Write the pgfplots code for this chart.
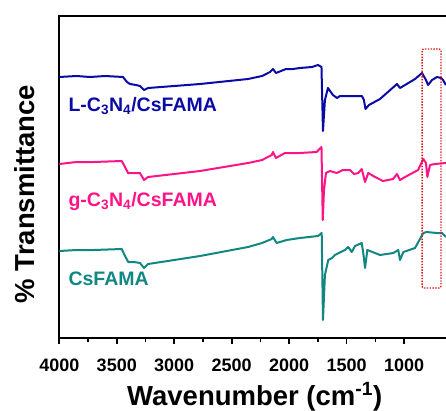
\documentclass[border=0pt]{standalone}
\usepackage{fontspec}
\setmainfont{Liberation Sans}
\usepackage{pgfplots}
\pgfplotsset{compat=1.18}

\definecolor{specblue}{RGB}{10,10,165}
\definecolor{specpink}{RGB}{255,20,135}
\definecolor{specteal}{RGB}{18,135,130}
\definecolor{boxred}{RGB}{225,20,20}

\begin{document}
\begin{tikzpicture}
\begin{axis}[
  at={(0pt,0pt)}, anchor=south west,
  scale only axis, width=390.8pt, height=322pt,
  x dir=reverse, xmin=600, xmax=4000, ymin=0, ymax=322,
  xtick={1000,1500,...,4000}, minor x tick num=1,
  ytick=\empty,
  xtick pos=bottom, tick align=outside,
  major tick length=6pt, minor tick length=4pt,
  every tick/.append style={black, line width=1.6pt},
  axis line style={line width=2pt},
  /pgf/number format/assume math mode=true,
  /pgf/number format/set thousands separator={},
  xticklabel style={font=\fontsize{18}{20}\selectfont\bfseries, anchor=base, yshift=-27pt},
  xlabel={Wavenumber (cm\textsuperscript{-1})},
  ylabel={\% Transmittance},
  label style={font=\fontsize{27.5}{30}\selectfont\bfseries},
  xlabel style={at={(axis description cs:0.5,0)}, anchor=base, yshift=-67pt},
  ylabel style={at={(axis description cs:-0.0896,0.447)}, anchor=center},
  every axis plot/.append style={line width=2pt, line join=round},
]
% L-C3N4/CsFAMA
\addplot[specblue] table {
4000 261
3850 262
3733 261
3600 262
3446 261
3411 256
3385 254
3333 253
3298 252
3263 248
3228 250
3000 252
2776 254
2358 259
2236 262
2167 266
2141 269
2115 265
2028 269
1967 269
1906 270
1802 271
1749 273
1719 271
1706 207
1689 238
1663 250
1619 243
1584 240
1558 242
1471 242
1367 242
1350 238
1336 229
1306 233
1210 239
1062 254
1036 250
992 253
905 259
844 265
810 258
792 253
757 258
714 261
679 260
662 258
636 253
};
% g-C3N4/CsFAMA
\addplot[specpink] table {
4000 174
3850 176
3700 176
3457 177
3428 171
3402 165
3350 165
3298 165
3263 158
3228 161
3000 164
2776 167
2358 175
2236 178
2152 183
2141 186
2115 180
2037 185
1906 185
1761 186
1719 191
1708 118
1697 148
1680 165
1645 167
1587 165
1532 168
1471 168
1436 164
1399 165
1369 169
1340 156
1312 165
1253 161
1184 157
1097 159
1062 164
1036 158
992 161
879 168
833 179
810 175
798 161
775 173
731 174
636 175
};
% CsFAMA
\addplot[specteal] table {
4000 87
3850 88
3700 88
3457 89
3428 82
3400 76
3350 76
3298 75
3263 70
3228 74
3000 78
2776 82
2358 91
2236 95
2152 99
2141 101
2109 95
2022 98
1906 100
1749 102
1717 105
1706 18
1689 63
1660 78
1627 80
1602 83
1515 88
1486 91
1456 86
1427 92
1369 95
1353 83
1340 70
1320 88
1210 83
1094 85
1051 88
1036 78
1007 86
905 90
833 105
804 106
717 105
671 105
636 101
};
\draw[boxred, line width=1.4pt, dash pattern=on 1.4pt off 1.4pt, rounded corners=2pt]
  (axis cs:844,289) rectangle (axis cs:679,50);
\node[anchor=base west, text=specblue, font=\fontsize{19.5}{22}\selectfont\bfseries]
  at (axis cs:3950,227) {L-C\textsubscript{3}N\textsubscript{4}/CsFAMA};
\node[anchor=base west, text=specpink, font=\fontsize{19.5}{22}\selectfont\bfseries]
  at (axis cs:3950,132) {g-C\textsubscript{3}N\textsubscript{4}/CsFAMA};
\node[anchor=base west, text=specteal, font=\fontsize{19.5}{22}\selectfont\bfseries]
  at (axis cs:3950,53) {CsFAMA};
\end{axis}
\pgfresetboundingbox
\useasboundingbox (-59.3pt,-72pt) rectangle (386.7pt,338pt);
\end{tikzpicture}
\end{document}
